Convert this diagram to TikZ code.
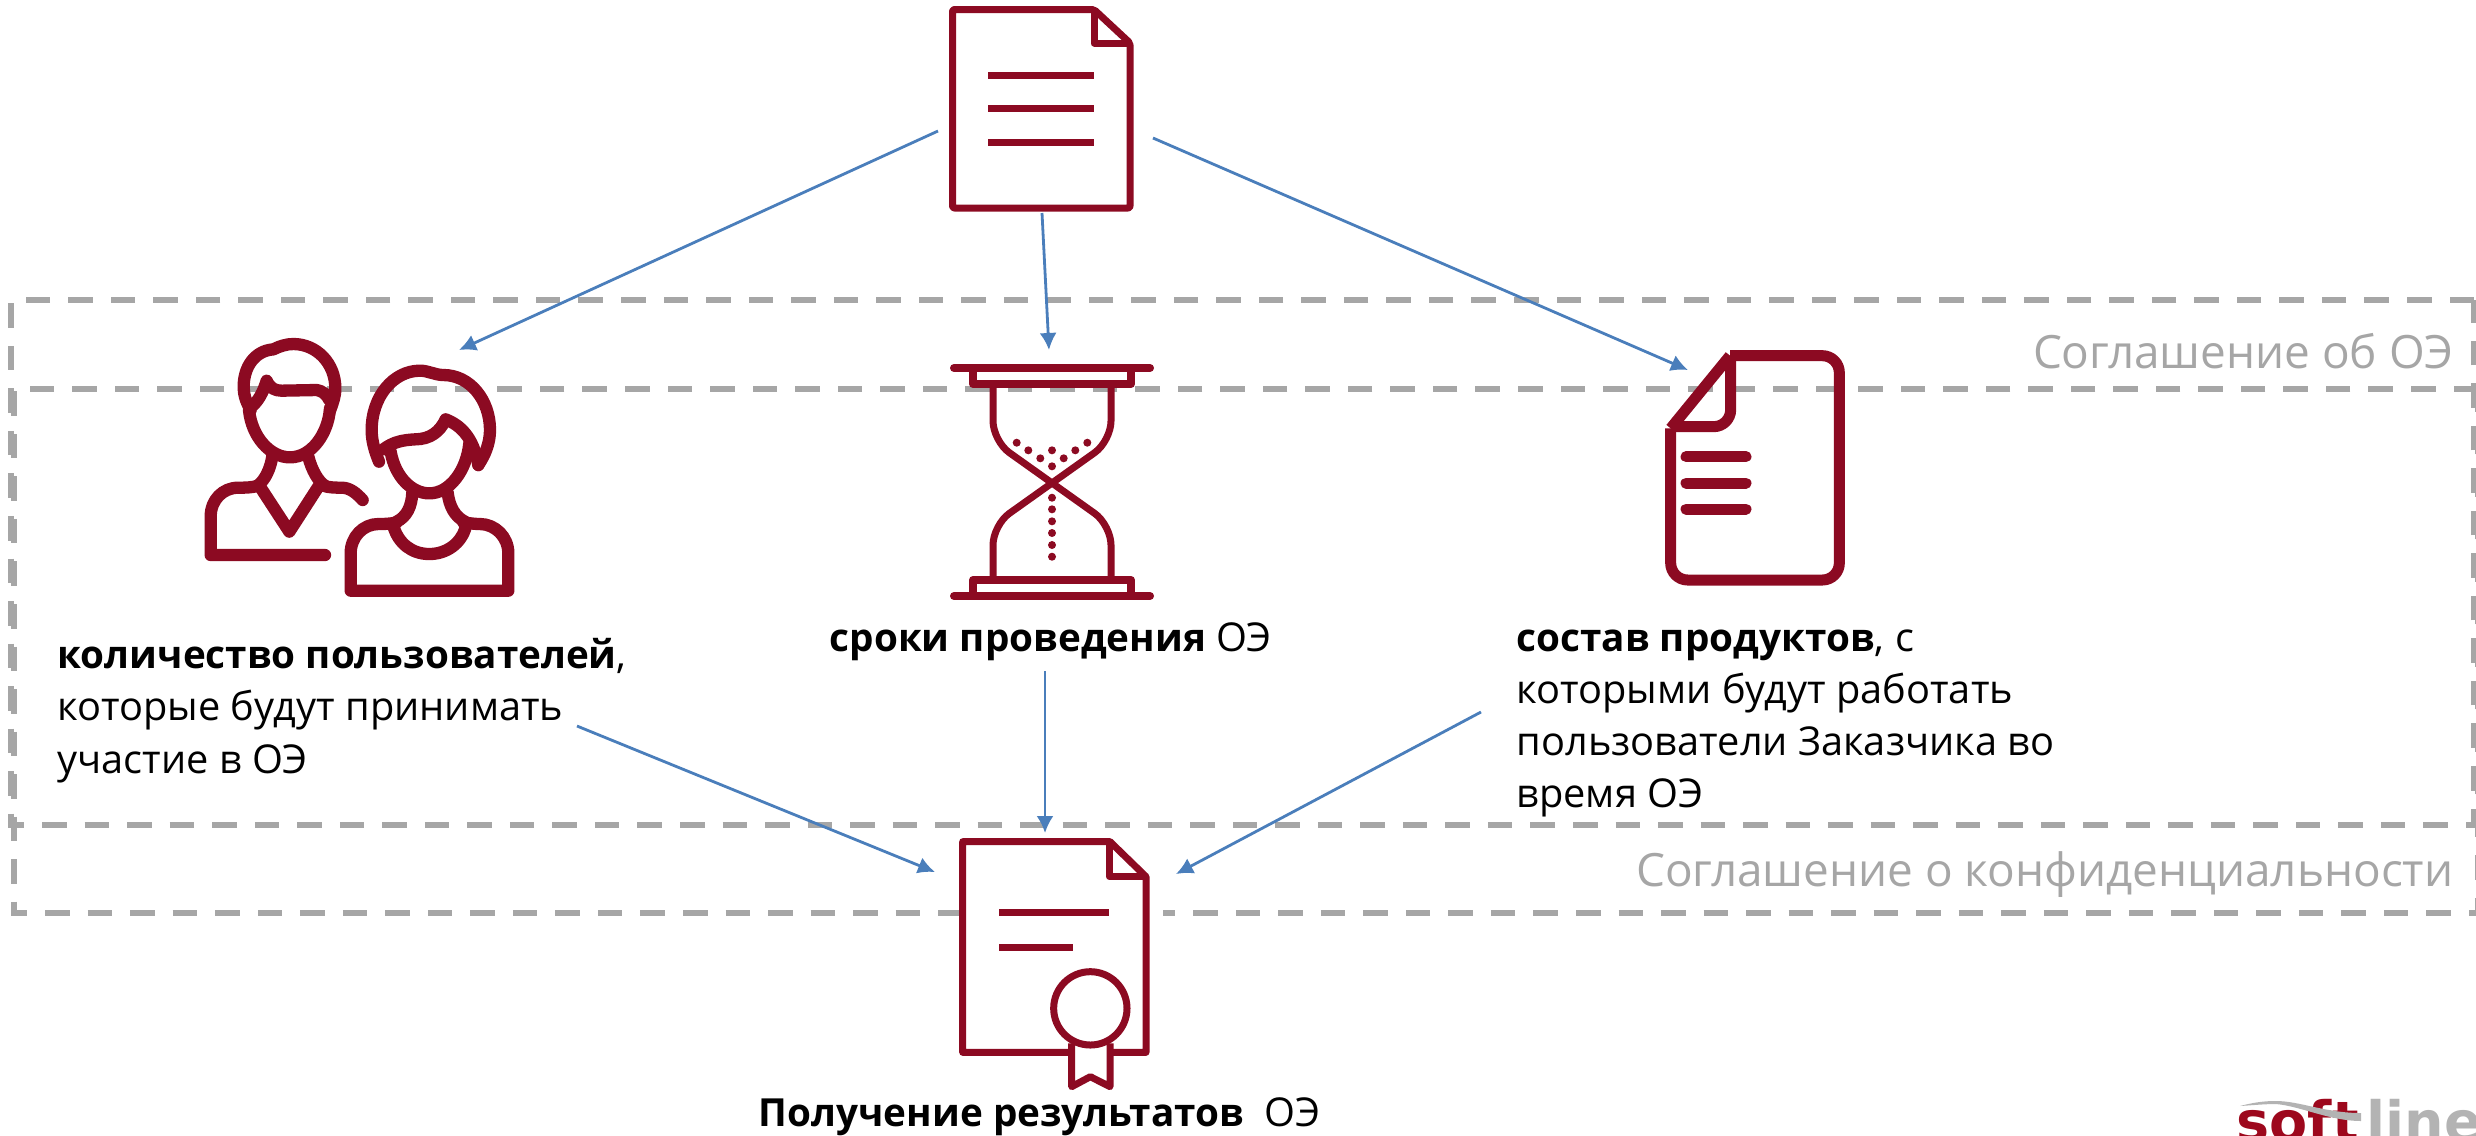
\documentclass[tikz,border=0pt]{standalone}
\usepackage{fontspec}
\setmainfont{Open Sans}
\newfontfamily\logofont{DejaVu Sans}
\usetikzlibrary{arrows.meta}
\definecolor{ARed}{HTML}{8C0A22}
\definecolor{AGray}{HTML}{A6A6A6}
\definecolor{ABlue}{HTML}{4A7EBB}
\newcommand{\bld}[1]{{\bfseries\fontsize{11}{14.8}\selectfont #1}}
\tikzset{
    arrow/.style = {draw=ABlue, line width=0.028cm, -{Latex[length=0.17cm,width=0.17cm]}},
    zone/.style = {draw=AGray, line width=0.06cm, dash pattern=on 0.245cm off 0.18cm},
    zonelabel/.style = {AGray, anchor=east, inner sep=0, font=\fontsize{13.05}{15}\selectfont},
    label/.style = {anchor=north west, inner sep=0, align=left, font=\fontsize{11.3}{14.8}\selectfont},
    logotext/.style = {anchor=base west, inner sep=0, font=\logofont\bfseries\fontsize{15.8}{16}\selectfont},
    icon/.style = {draw=ARed, line width=0.07cm, line join=round},
    icontick/.style = {draw=ARed, line width=0.123cm, line cap=round, line join=round},
    zoomed/.style = {x=0.01cm/3, y=-0.01cm/3}
}
\begin{document}
\begin{tikzpicture}[x=0.01cm, y=-0.01cm]
    \useasboundingbox (0,0) rectangle (2476,1135);
    % dashed zones
    \draw [zone] (2474,300) -- (11,300) -- (11,825) -- (2474,825) -- cycle;
    \draw [zone] (2478,389) -- (14,389) -- (14,913) -- (2478,913) -- cycle;
    \node [zonelabel] (agr) at (2454,351) {Соглашение об ОЭ};
    \node [zonelabel] (nda) at (2454,875) {Соглашение о конфиденциальности};
    % source document
    \draw [icon, rounded corners=0.02cm] (1094,9.5) -- (952.5,9.5) -- (952.5,208) -- (1130,208) -- (1130,43) -- cycle;
    \draw [icon] (1094,9.5) -- (1094,43) -- (1130,43);
    \foreach \ypos in {75.7,108.7,142} \draw [icon] (988,\ypos) -- (1094,\ypos);
    % users
    \begin{scope}[shift={(180,320)}, zoomed]
        \draw [icontick] (212,270) .. controls (195,240) and (191,220) .. (191,200) .. controls (191,140) and (225,92) .. (280,88)
            .. controls (300,78) and (320,72) .. (340,72) .. controls (410,72) and (466,130) .. (466,205) .. controls (466,230) and (458,250) .. (450,272);
        \draw [icontick] (212,262) .. controls (235,245) and (250,215) .. (260,182) .. controls (270,205) and (285,212) .. (305,212)
            -- (410,210) .. controls (425,212) and (440,222) .. (448,240);
        \draw [icontick] (207,270) .. controls (215,350) and (270,412) .. (330,412) .. controls (395,412) and (445,340) .. (450,265);
        \draw [icontick] (277,408) .. controls (272,445) and (255,480) .. (235,495);
        \draw [icontick] (385,410) .. controls (395,450) and (415,485) .. (435,497);
        \draw [icontick] (235,497) .. controls (215,503) and (195,503) .. (175,503) .. controls (128,503) and (92,540) .. (92,590) -- (92,705) -- (435,705);
        \draw [icontick] (430,497) .. controls (445,503) and (470,503) .. (485,503) .. controls (510,503) and (530,520) .. (548,540);
        \draw [icontick] (240,500) -- (328,635) -- (415,500);
        \draw [icontick] (597,425) .. controls (585,395) and (575,365) .. (575,330) .. controls (575,230) and (640,152) .. (720,152)
            .. controls (745,152) and (765,165) .. (790,165) .. controls (870,165) and (930,240) .. (930,330) .. controls (930,370) and (915,405) .. (895,435);
        \draw [icontick] (610,388) .. controls (640,365) and (670,360) .. (705,358) .. controls (750,358) and (780,335) .. (797,298)
            .. controls (840,315) and (880,350) .. (895,435);
        \draw [icontick] (632,395) .. controls (645,470) and (695,520) .. (748,520) .. controls (810,520) and (860,450) .. (868,370);
        \draw [icontick] (697,518) .. controls (695,560) and (680,590) .. (650,605);
        \draw [icontick] (803,518) .. controls (808,560) and (825,590) .. (855,605);
        \draw [icontick] (650,607) .. controls (630,612) and (610,612) .. (595,612) .. controls (550,612) and (512,650) .. (512,700) -- (512,812) -- (985,812)
            -- (985,700) .. controls (985,650) and (945,612) .. (900,612) .. controls (885,612) and (870,610) .. (850,607);
        \draw [icontick] (640,618) .. controls (655,670) and (695,702) .. (748,702) .. controls (800,702) and (845,670) .. (858,618);
    \end{scope}
    % hourglass
    \draw [icon, line width=0.08cm, line cap=round] (954,368) -- (1150,368);
    \draw [icon, line width=0.08cm] (973,368) rectangle (1131,384);
    \draw [icon, line width=0.08cm, line cap=round] (954,596) -- (1150,596);
    \draw [icon, line width=0.08cm] (973,580) rectangle (1131,596);
    \draw [icon, rounded corners=0.2cm] (993,384) -- (993,441) -- (1052,483) -- (1111,525) -- (1111,580);
    \draw [icon, rounded corners=0.2cm] (1111,384) -- (1111,441) -- (1052,483) -- (993,525) -- (993,580);
    \foreach \xpos/\ypos in {1016.7/442.7,1028.3/450.3,1040.3/458.3,1052/466.3,1063.7/458.3,1075.3/450.3,1087.3/442.7,1052/450.3,
        1052/497.7,1052/509.3,1052/521.3,1052/533,1052/545,1052/556.7}
        \fill [ARed] (\xpos,\ypos) circle (4);
    % product sheet
    \begin{scope}[shift={(1640,330)}, zoomed]
        \draw [icon, line width=0.11cm, rounded corners=0.17cm] (270,77) -- (598,77) -- (598,750) -- (92,750) -- (92,295);
        \draw [icon, line width=0.11cm] (92,295) -- (270,77);
        \draw [icon, line width=0.11cm, rounded corners=0.17cm] (272,77) -- (272,290) -- (92,290);
        \foreach \ypos in {380,459,537} \draw [icon, line width=0.11cm, line cap=round] (138,\ypos) -- (318,\ypos);
    \end{scope}
    % result certificate, its picture hides the dashes
    \fill [white] (960,835) rectangle (1163,1085);
    \begin{scope}[shift={(930,810)}, zoomed]
        \draw [icon] (420,727) -- (98,727) -- (98,95) -- (540,95) -- (648,200) -- (648,727) -- (545,727);
        \draw [icon] (538,95) -- (538,200) -- (648,200);
        \draw [icon] (207,308) -- (537,308);
        \draw [icon] (207,412) -- (428,412);
        \draw [icon] (481,595) circle (110);
        \draw [icon] (425,700) -- (425,830) -- (481,800) -- (540,830) -- (540,700);
    \end{scope}
    % texts
    \node [label] (usrtxt) at (57,638) {\bld{количество пользователей},\\которые будут принимать\\участие в ОЭ};
    \node [label] (timetxt) at (829,622) {\bld{сроки проведения} ОЭ};
    \node [label] (prodtxt) at (1516,629) {\bld{состав продуктов}, с\\которыми будут работать\\пользователи Заказчика во\\время ОЭ};
    \node [label] (restxt) at (758,1097) {\bld{Получение результатов}\ \ ОЭ};
    % arrows
    \coordinate (srcl) at (938,131);
    \coordinate (srcm) at (1042,213);
    \coordinate (srcr) at (1153,138);
    \coordinate (usrin) at (459,350);
    \coordinate (timein) at (1049,350);
    \coordinate (prodin) at (1688,370);
    \coordinate (usrout) at (577,726);
    \coordinate (timeout) at (1045,671);
    \coordinate (prodout) at (1481,712);
    \coordinate (resl) at (935,872);
    \coordinate (resm) at (1045,833);
    \coordinate (resr) at (1176,874);
    \draw [arrow] (srcl) -- (usrin);
    \draw [arrow] (srcm) -- (timein);
    \draw [arrow] (srcr) -- (prodin);
    \draw [arrow] (usrout) -- (resl);
    \draw [arrow] (timeout) -- (resm);
    \draw [arrow] (prodout) -- (resr);
    % logo, cut by the page edge
    \begin{scope}
        \clip (0,0) rectangle (2476,1135);
        \node [logotext, text=ARed!85!red] (soft) at (2236,1141) {soft};
        \node [logotext, text=AGray!85] (line) at (2366,1141) {line};
    \end{scope}
    \fill [AGray!85] (2240,1106) .. controls (2255,1102) and (2265,1101) .. (2276,1101) .. controls (2300,1101) and (2325,1113) .. (2361,1113)
        -- (2361,1121) .. controls (2330,1121) and (2300,1106) .. (2276,1104) .. controls (2265,1104) and (2255,1105) .. (2240,1106) -- cycle;
\end{tikzpicture}
\end{document}
